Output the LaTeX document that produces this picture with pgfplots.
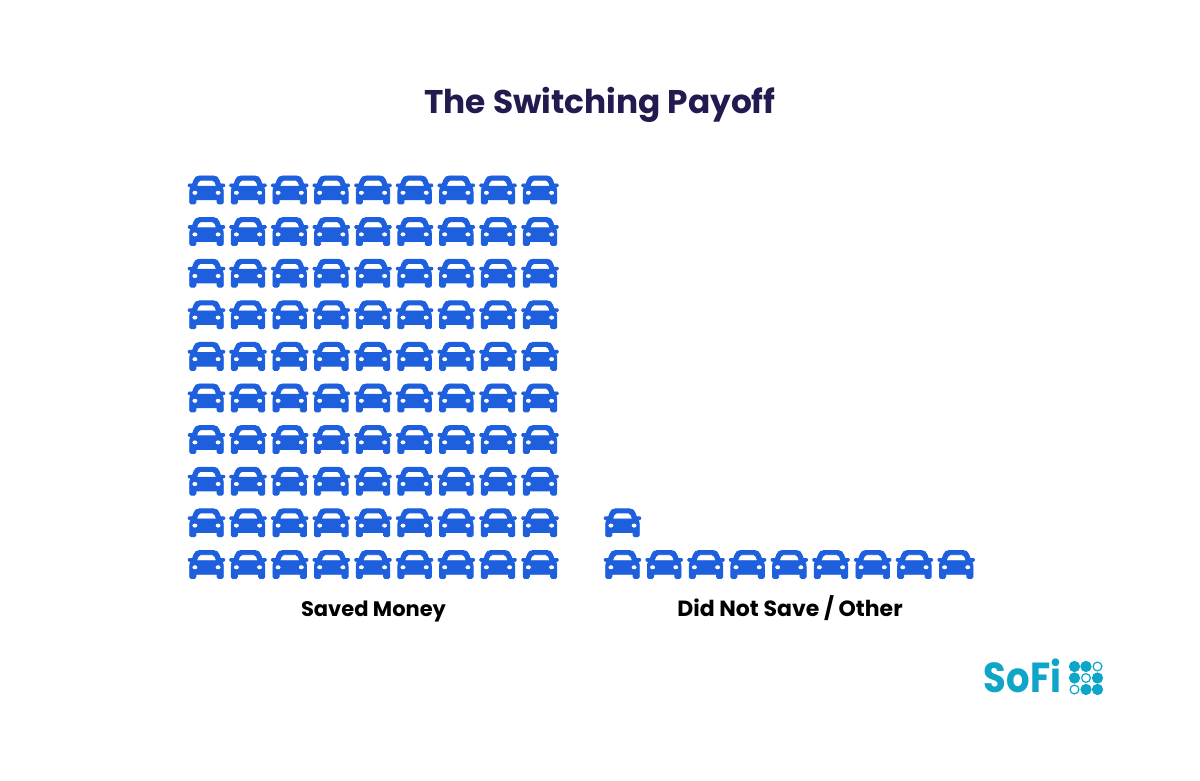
\documentclass[border=0pt]{standalone}
\usepackage{pgfplots}
\pgfplotsset{compat=1.18}
\usepackage{fontspec}
\setmainfont{Poppins}
\definecolor{carblue}{HTML}{1D5FDD}
\definecolor{titlec}{HTML}{241A4F}
\definecolor{sofi}{HTML}{0EA5C9}
\pgfdeclareplotmark{car}{%
  \fill[carblue,even odd rule,scale=0.5]
    (-7,14) -- (7,14) .. controls (10,14) and (11.5,12.5) .. (12.5,10)
    -- (14,6) -- (17.5,6) .. controls (18.7,6) and (18.7,3.2) .. (17.5,3.2) -- (15.5,3)
    .. controls (16.5,1.5) and (16.8,0) .. (16.8,-2) -- (16.8,-12.5)
    .. controls (16.8,-13.6) and (16.2,-14) .. (15.3,-14) -- (12,-14)
    .. controls (11,-14) and (10.6,-13.6) .. (10.6,-12.5) -- (10.6,-9.8) -- (-10.6,-9.8) -- (-10.6,-12.5)
    .. controls (-10.6,-13.6) and (-11,-14) .. (-12,-14) -- (-15.3,-14)
    .. controls (-16.2,-14) and (-16.8,-13.6) .. (-16.8,-12.5) -- (-16.8,-2)
    .. controls (-16.8,0) and (-16.5,1.5) .. (-15.5,3) -- (-17.5,3.2)
    .. controls (-18.7,3.2) and (-18.7,6) .. (-17.5,6) -- (-14,6)
    -- (-12.5,10) .. controls (-11.5,12.5) and (-10,14) .. (-7,14) -- cycle
    (-6,9.8) -- (6,9.8) .. controls (7.5,9.8) and (8,9) .. (8.4,8) -- (10,3.8) -- (-10,3.8) -- (-8.4,8) .. controls (-8,9) and (-7.5,9.8) .. (-6,9.8) -- cycle
    (11.6,-2.8) ellipse [x radius=3.1, y radius=2.6]
    (-11.6,-2.8) ellipse [x radius=3.1, y radius=2.6];
}
\begin{document}
\begin{tikzpicture}
\begin{axis}[
  at={(0,0)}, anchor=south west,
  width=600pt, height=390.5pt, scale only axis,
  xmin=0, xmax=1200, ymin=0, ymax=781,
  hide axis, clip=false,
]
\addplot[draw=none,fill=white,forget plot] coordinates {(0,0)(1200,0)(1200,781)(0,781)} -- cycle;
% Saved Money
\addplot[only marks,mark=car] coordinates {
(206.5,591)(248,591)(289.7,591)(331.3,591)(373,591)(414.6,591)(456.3,591)(498,591)(540,591)
(206.5,549.4)(248,549.4)(289.7,549.4)(331.3,549.4)(373,549.4)(414.6,549.4)(456.3,549.4)(498,549.4)(540,549.4)
(206.5,507.8)(248,507.8)(289.7,507.8)(331.3,507.8)(373,507.8)(414.6,507.8)(456.3,507.8)(498,507.8)(540,507.8)
(206.5,466.2)(248,466.2)(289.7,466.2)(331.3,466.2)(373,466.2)(414.6,466.2)(456.3,466.2)(498,466.2)(540,466.2)
(206.5,424.6)(248,424.6)(289.7,424.6)(331.3,424.6)(373,424.6)(414.6,424.6)(456.3,424.6)(498,424.6)(540,424.6)
(206.5,383)(248,383)(289.7,383)(331.3,383)(373,383)(414.6,383)(456.3,383)(498,383)(540,383)
(206.5,341.4)(248,341.4)(289.7,341.4)(331.3,341.4)(373,341.4)(414.6,341.4)(456.3,341.4)(498,341.4)(540,341.4)
(206.5,299.8)(248,299.8)(289.7,299.8)(331.3,299.8)(373,299.8)(414.6,299.8)(456.3,299.8)(498,299.8)(540,299.8)
(206.5,258.2)(248,258.2)(289.7,258.2)(331.3,258.2)(373,258.2)(414.6,258.2)(456.3,258.2)(498,258.2)(540,258.2)
(206.5,216.5)(248,216.5)(289.7,216.5)(331.3,216.5)(373,216.5)(414.6,216.5)(456.3,216.5)(498,216.5)(540,216.5)
};
% Did Not Save / Other
\addplot[only marks,mark=car] coordinates {
(622.5,258.2)
(622.5,216.5)(664.2,216.5)(706,216.5)(747.6,216.5)(789.3,216.5)(831,216.5)(872.7,216.5)(914.4,216.5)(956.2,216.5)
};
% Logo dots
\addplot[only marks,mark=*,mark size=2.6pt,mark options={draw=sofi,fill=sofi}] coordinates {
(1074.5,114.5)(1086,114.5)(1074.5,103)(1097.5,103)(1086,91.5)(1097.5,91.5)};
\addplot[only marks,mark=*,mark size=2.2pt,mark options={draw=sofi,fill=white,line width=0.6pt}] coordinates {
(1097.5,114.5)(1086,103)(1074.5,91.5)};
\node[font=\fontsize{16.4}{20}\selectfont\bfseries,text=titlec,inner sep=0,anchor=base] at (axis cs:600,667) {The Switching Payoff};
\node[font=\fontsize{10.5}{12}\selectfont\bfseries,text=black,inner sep=0,anchor=base] at (axis cs:373.5,164.5) {Saved Money};
\node[font=\fontsize{11}{12}\selectfont\bfseries,text=black,inner sep=0,anchor=base] at (axis cs:790,164.5) {Did Not Save / Other};
\node[font=\fontsize{21}{24}\selectfont\bfseries,text=sofi,inner sep=0,anchor=base] at (axis cs:1022.5,88) {\scalebox{0.88}[1]{SoFi}};
\end{axis}
\end{tikzpicture}
\end{document}
